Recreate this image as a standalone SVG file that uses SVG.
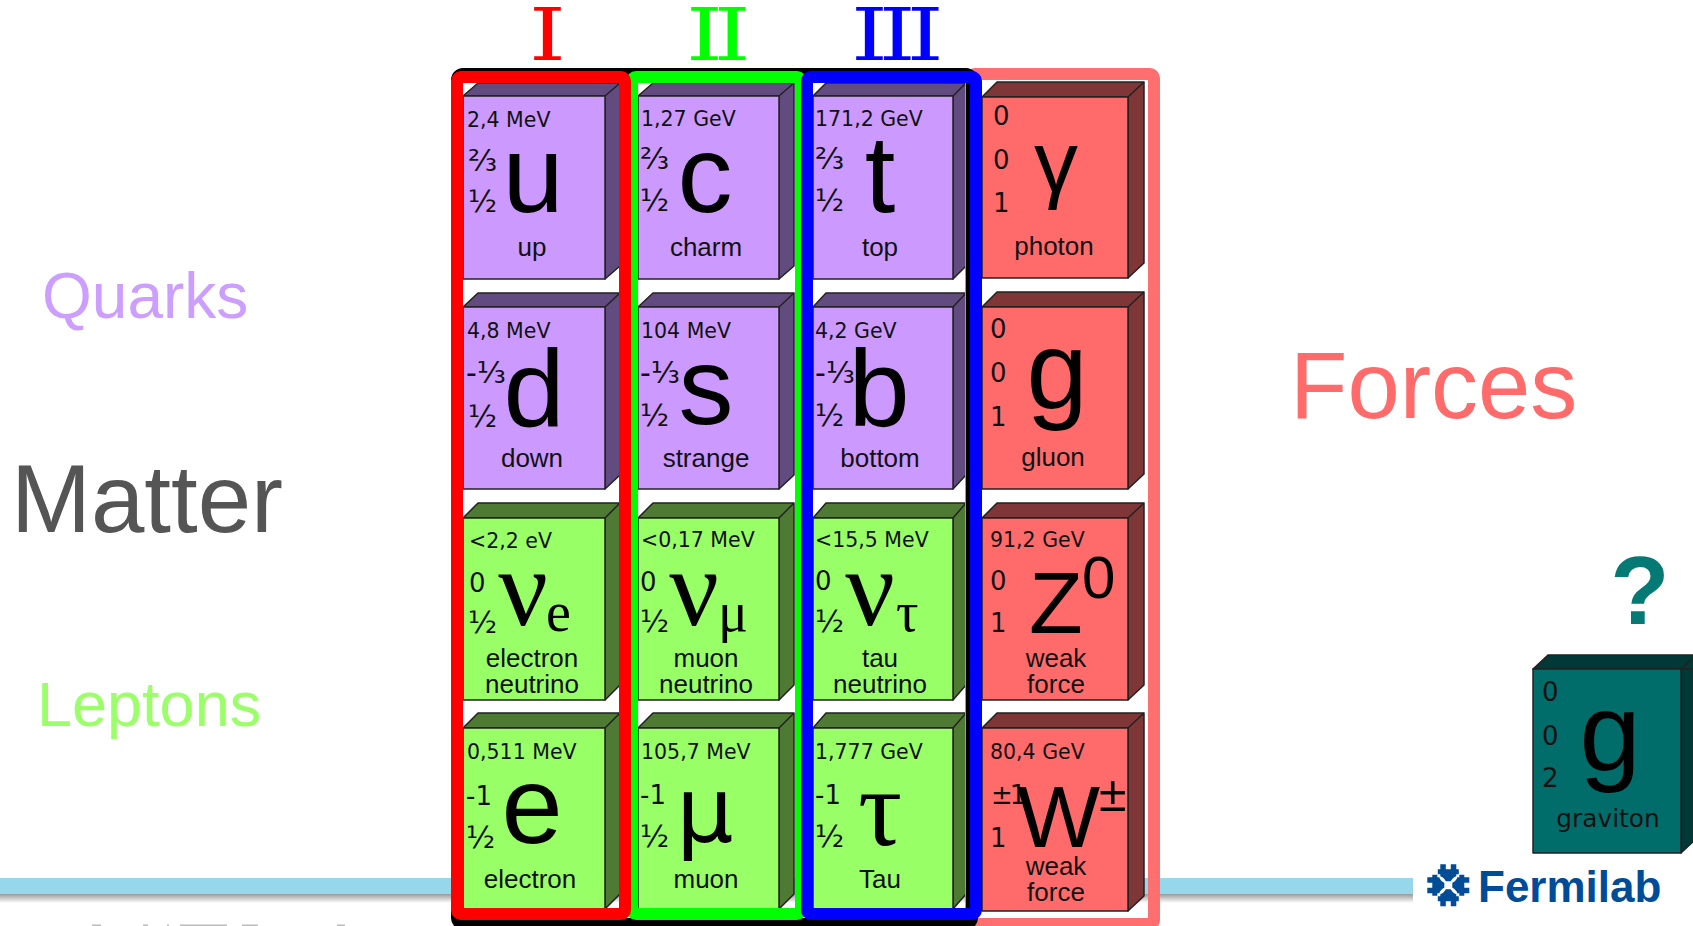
<svg xmlns="http://www.w3.org/2000/svg" width="1693" height="926" viewBox="0 0 1693 926">
<style>
text{font-family:"Liberation Sans",Arial,sans-serif;fill:#000}
.pu .f{fill:#cc99ff}.pu .d{fill:#614b7f}
.gr .f{fill:#99ff66}.gr .d{fill:#4e7a34}
.re .f{fill:#ff6b6b}.re .d{fill:#7f3636}
.te .f{fill:#006d6b}.te .d{fill:#023835}
.f,.d{stroke:#222;stroke-width:1.5;stroke-linejoin:round}
.m{font-family:"DejaVu Sans",sans-serif;font-size:20.5px;fill:#111}
.c{font-family:"DejaVu Sans",sans-serif;font-size:26px;fill:#111}
.q{font-family:"DejaVu Sans",sans-serif;font-size:30px;fill:#111}
.b{font-size:110px;text-anchor:middle}
.s{font-family:"Liberation Serif",serif;font-size:110px;text-anchor:middle}
.sub{font-family:"Liberation Serif",serif;font-size:56px}
.n{font-size:26px;text-anchor:middle;fill:#111}
.h{font-family:"DejaVu Serif",serif;font-size:72px}
.fr{fill:none;stroke-width:12}
</style>
<defs>
<linearGradient id="sh" x1="0" y1="0" x2="0" y2="1"><stop offset="0" stop-color="#999"/><stop offset="1" stop-color="#fff"/></linearGradient>
<path id="lg" fill="#004c97" d="M-8-21H-2.5V-16H2.5V-21H8V-16H10.5V-11H8V-9Q4.5-8 2.5-4H-2.5Q-4.5-8-8-9V-11H-10.5V-16H-8Z"/>
</defs>
<rect width="1693" height="926" fill="#fff"/>
<g id="footer-bar">
<rect x="0" y="894" width="1413" height="9" fill="url(#sh)"/>
<rect x="0" y="878" width="1413" height="16" fill="#97d7ec"/>
<g fill="#bbb"><rect x="92" y="924.500" width="9" height="1.500"/><rect x="143" y="924.500" width="5" height="1.500"/><rect x="167" y="924.500" width="2" height="1.500"/><rect x="180" y="924.500" width="47" height="1.500"/><rect x="242" y="924.500" width="16" height="1.500"/><rect x="337" y="924.500" width="8" height="1.500"/></g>
</g>
<g id="headings">
<text x="42" y="318" font-size="64" style="fill:#cc9eff">Quarks</text>
<text x="11" y="532" font-size="96" style="fill:#555">Matter</text>
<text x="37" y="726" font-size="63" style="fill:#9bff6a">Leptons</text>
<text x="1290" y="418" font-size="94" style="fill:#ff6b6b">Forces</text>
<text class="h" transform="translate(529 60) scale(1.3 1)" style="fill:#f00">I</text>
<text class="h" transform="translate(686 60) scale(1.3 1)" letter-spacing="-7" style="fill:#0f0">II</text>
<text class="h" transform="translate(851 60) scale(1.3 1)" letter-spacing="-7" style="fill:#00f">III</text>
</g>

<g id="node-u" class="pu"><path class="d" d="M463 96l15-13h142l-15 13zM605 96l15-13v183l-15 13z"/><rect class="f" x="463" y="96" width="142" height="183"/>
<text class="m" x="467" y="127">2,4 MeV</text><text class="q" x="468" y="171">⅔</text><text class="q" x="468" y="212">½</text><text class="b" x="533" y="212">u</text><text class="n" x="532" y="256">up</text></g>
<g id="node-c" class="pu"><path class="d" d="M638 96l15-13h141l-15 13zM779 96l15-13v183l-15 13z"/><rect class="f" x="638" y="96" width="141" height="183"/>
<text class="m" x="641" y="126">1,27 GeV</text><text class="q" x="640" y="169">⅔</text><text class="q" x="640" y="211">½</text><text class="b" x="705" y="212">c</text><text class="n" x="706" y="256">charm</text></g>
<g id="node-t" class="pu"><path class="d" d="M813 96l13-13h140l-13 13zM953 96l13-13v183l-13 13z"/><rect class="f" x="813" y="96" width="140" height="183"/>
<text class="m" x="815" y="126">171,2 GeV</text><text class="q" x="815" y="169">⅔</text><text class="q" x="815" y="211">½</text><text class="b" x="880" y="212">t</text><text class="n" x="880" y="256">top</text></g>
<g id="node-gamma" class="re"><path class="d" d="M982 97l15-15h147l-16 15zM1128 97l16-15v181l-16 15z"/><rect class="f" x="982" y="97" width="146" height="181"/>
<text class="c" x="993" y="125">0</text><text class="c" x="993" y="169">0</text><text class="c" x="993" y="212">1</text><text class="b" x="1056" y="192" style="font-size:88px">γ</text><text class="n" x="1054" y="255">photon</text></g>

<g id="node-d" class="pu"><path class="d" d="M463 307l15-14h142l-15 14zM605 307l15-14v182l-15 14z"/><rect class="f" x="463" y="307" width="142" height="182"/>
<text class="m" x="467" y="338">4,8 MeV</text><text class="q" x="466" y="383">-⅓</text><text class="q" x="468" y="427">½</text><text class="b" x="534" y="426">d</text><text class="n" x="532" y="467">down</text></g>
<g id="node-s" class="pu"><path class="d" d="M638 307l15-14h141l-15 14zM779 307l15-14v182l-15 14z"/><rect class="f" x="638" y="307" width="141" height="182"/>
<text class="m" x="641" y="338">104 MeV</text><text class="q" x="640" y="383">-⅓</text><text class="q" x="640" y="426">½</text><text class="b" x="706" y="424">s</text><text class="n" x="706" y="467">strange</text></g>
<g id="node-b" class="pu"><path class="d" d="M813 307l13-14h140l-13 14zM953 307l13-14v182l-13 14z"/><rect class="f" x="813" y="307" width="140" height="182"/>
<text class="m" x="815" y="338">4,2 GeV</text><text class="q" x="815" y="383">-⅓</text><text class="q" x="815" y="426">½</text><text class="b" x="879" y="426">b</text><text class="n" x="880" y="467">bottom</text></g>
<g id="node-g" class="re"><path class="d" d="M982 307l15-15h147l-16 15zM1128 307l16-15v182l-16 15z"/><rect class="f" x="982" y="307" width="146" height="182"/>
<text class="c" x="990" y="338">0</text><text class="c" x="990" y="382">0</text><text class="c" x="990" y="426">1</text><text class="b" x="1057" y="408">g</text><text class="n" x="1053" y="466">gluon</text></g>

<g id="node-nue" class="gr"><path class="d" d="M463 518l15-15h142l-15 15zM605 518l15-15v182l-15 15z"/><rect class="f" x="463" y="518" width="142" height="182"/>
<text class="m" x="469" y="548">&lt;2,2 eV</text><text class="c" x="469" y="592">0</text><text class="q" x="468" y="633">½</text><text class="s" x="523" y="625">ν</text><text class="sub" x="546" y="631">e</text><text class="n" x="532" y="667">electron</text><text class="n" x="532" y="693">neutrino</text></g>
<g id="node-numu" class="gr"><path class="d" d="M638 518l15-15h141l-15 15zM779 518l15-15v182l-15 15z"/><rect class="f" x="638" y="518" width="141" height="182"/>
<text class="m" x="641" y="547">&lt;0,17 MeV</text><text class="c" x="640" y="591">0</text><text class="q" x="640" y="632">½</text><text class="s" x="694" y="625">ν</text><text class="sub" x="718" y="631">μ</text><text class="n" x="706" y="667">muon</text><text class="n" x="706" y="693">neutrino</text></g>
<g id="node-nutau" class="gr"><path class="d" d="M813 518l13-15h140l-13 15zM953 518l13-15v182l-13 15z"/><rect class="f" x="813" y="518" width="140" height="182"/>
<text class="m" x="815" y="547">&lt;15,5 MeV</text><text class="c" x="815" y="590">0</text><text class="q" x="815" y="632">½</text><text class="s" x="870" y="625">ν</text><text class="sub" x="896" y="631">τ</text><text class="n" x="880" y="667">tau</text><text class="n" x="880" y="693">neutrino</text></g>
<g id="node-z" class="re"><path class="d" d="M982 518l15-15h147l-16 15zM1128 518l16-15v182l-16 15z"/><rect class="f" x="982" y="518" width="146" height="182"/>
<text class="m" x="990" y="547">91,2 GeV</text><text class="c" x="990" y="590">0</text><text class="c" x="990" y="632">1</text><text x="1029" y="633" font-size="88">Z</text><text x="1082" y="598" font-size="60">0</text><text class="n" x="1056" y="667">weak</text><text class="n" x="1056" y="693">force</text></g>

<g id="node-e" class="gr"><path class="d" d="M463 728l15-15h142l-15 15zM605 728l15-15v181l-15 15z"/><rect class="f" x="463" y="728" width="142" height="181"/>
<text class="m" x="467" y="759">0,511 MeV</text><text class="c" x="466" y="805">-1</text><text class="q" x="466" y="848">½</text><text class="b" x="532" y="843">e</text><text class="n" x="530" y="888">electron</text></g>
<g id="node-mu" class="gr"><path class="d" d="M638 728l15-15h141l-15 15zM779 728l15-15v181l-15 15z"/><rect class="f" x="638" y="728" width="141" height="181"/>
<text class="m" x="641" y="759">105,7 MeV</text><text class="c" x="640" y="804">-1</text><text class="q" x="640" y="847">½</text><text class="b" x="705" y="842" style="font-family:'DejaVu Sans',sans-serif;font-size:90px">μ</text><text class="n" x="706" y="888">muon</text></g>
<g id="node-tau" class="gr"><path class="d" d="M813 728l13-15h140l-13 15zM953 728l13-15v181l-13 15z"/><rect class="f" x="813" y="728" width="140" height="181"/>
<text class="m" x="815" y="759">1,777 GeV</text><text class="c" x="815" y="804">-1</text><text class="q" x="815" y="847">½</text><text class="s" x="880" y="845">τ</text><text class="n" x="880" y="888">Tau</text></g>
<g id="node-w" class="re"><path class="d" d="M982 728l15-15h147l-16 15zM1128 728l16-15v183l-16 15z"/><rect class="f" x="982" y="728" width="146" height="183"/>
<text class="m" x="990" y="759">80,4 GeV</text><text class="c" x="991" y="804" letter-spacing="-3">±1</text><text class="c" x="990" y="847">1</text><text x="1017" y="847" font-size="88">W</text><text x="1099" y="811" font-size="50">±</text><text class="n" x="1056" y="875">weak</text><text class="n" x="1056" y="901">force</text></g>

<g id="node-graviton" class="te"><path class="d" d="M1533 669l15-14h160l-15 14zM1681 669l15-14v184l-15 14z"/><rect class="f" x="1533" y="669" width="148" height="184"/>
<text class="c" x="1542" y="701">0</text><text class="c" x="1542" y="745">0</text><text class="c" x="1542" y="787">2</text><text class="b" x="1610" y="770">g</text><text x="1608" y="827" font-size="24.8" text-anchor="middle" style="font-family:'DejaVu Sans',sans-serif;fill:#111">graviton</text></g>
<text id="question" x="1640" y="624" font-size="97" font-weight="700" text-anchor="middle" style="fill:#057a75">?</text>

<g id="frames" stroke-linejoin="round">
<rect class="fr" x="971" y="74" width="183" height="850" rx="4" stroke="#ff6f6f"/>
<rect class="fr" x="457" y="74" width="515" height="850" rx="6" stroke="#000"/>
<rect class="fr" x="632" y="77" width="169" height="837" rx="4" stroke="#0f0"/>
<rect class="fr" x="457" y="77" width="168" height="837" rx="4" stroke="#f00"/>
<rect class="fr" x="807" y="77" width="169" height="837" rx="4" stroke="#00f"/>
</g>
<g id="fermilab">
<g transform="translate(1448.300 885.300)"><use href="#lg"/><use href="#lg" transform="rotate(90)"/><use href="#lg" transform="rotate(180)"/><use href="#lg" transform="rotate(270)"/></g>
<text x="1478" y="902" font-size="44" font-weight="700" style="fill:#004c97">Fermilab</text>
</g>
</svg>
